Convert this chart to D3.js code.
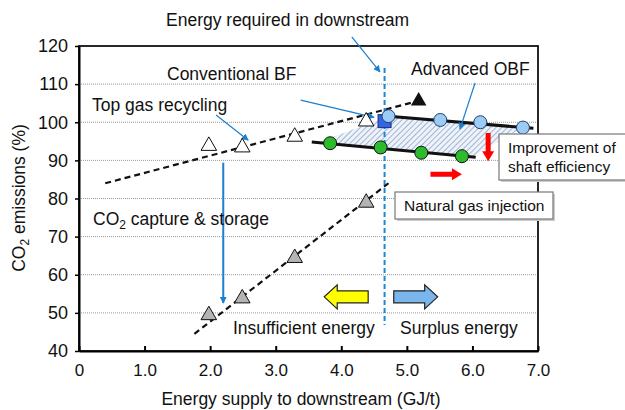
<!DOCTYPE html>
<meta charset="utf-8">
<style>
  body { margin: 0; background: #fff; }
  svg text { font-family: "Liberation Sans", Arial, sans-serif; fill: #111; }
  .grid line { stroke: #999; stroke-dasharray: 1,1; }
  .lbl { font-size: 17.5px; }
  .boxlbl { font-size: 15.5px; }
</style>
<body>
<svg width="625" height="410"></svg>
<script src="https://cdn.jsdelivr.net/npm/d3@7"></script>
<script>
// values
var xTicks = [0, 1, 2, 3, 4, 5, 6, 7];
var xTickLabels = ["0", "1.0", "2.0", "3.0", "4.0", "5.0", "6.0", "7.0"];
var yTicks = [40, 50, 60, 70, 80, 90, 100, 110, 120];
var gridValues = [50, 60, 70, 80, 90, 100, 110];

var conventionalPts = [[1.98, 93.8], [2.49, 93.4], [3.29, 96.2], [4.38, 100.2]];
var conventionalLine = [[0.4, 84], [5.15, 105.5]];
var conventionalEnd = [[5.18, 105.6]];
var topGasSquare = [[4.66, 100.3]];
var ccsPts = [[1.98, 49.4], [2.49, 53.8], [3.29, 64.4], [4.38, 78.9]];
var ccsLine = [[1.76, 44.5], [4.72, 84]];
var obfUpper = [[4.72, 101.6], [5.51, 100.6], [6.12, 100.0], [6.77, 98.6]];
var obfUpperLine = [[4.72, 101.6], [6.93, 98.4]];
var obfLower = [[3.83, 94.5], [4.6, 93.4], [5.22, 92.0], [5.84, 91.1]];
var obfLowerLine = [[3.55, 94.8], [6.05, 90.8]];
var hatchArea = [[3.7, 95.0], [4.72, 101.6], [6.77, 98.6], [6.0, 91.0], [3.83, 94.5]];
var energyRequired = 4.66;

var margin = {top: 46, right: 87, bottom: 59, left: 79},
    width = 625 - margin.left - margin.right,
    height = 410 - margin.top - margin.bottom;

var svg = d3.select("svg");
var defs = svg.append("defs");

var pat = defs.append("pattern")
    .attr("id", "hatch")
    .attr("patternUnits", "userSpaceOnUse")
    .attr("width", 4).attr("height", 4)
    .attr("patternTransform", "rotate(45)");
pat.append("rect").attr("width", 4).attr("height", 4).attr("fill", "#eef3fa");
pat.append("line").attr("x1", 0).attr("y1", 0).attr("x2", 0).attr("y2", 4)
    .attr("stroke", "#8ea6cc").attr("stroke-width", 1.6);

defs.append("marker")
    .attr("id", "bluehead")
    .attr("viewBox", "0 0 10 10")
    .attr("refX", 9).attr("refY", 5)
    .attr("markerWidth", 7).attr("markerHeight", 7)
    .attr("markerUnits", "userSpaceOnUse")
    .attr("orient", "auto")
  .append("path").attr("d", "M0,0L10,5L0,10z").attr("fill", "#1a7fcf");

var x = d3.scaleLinear().domain([0, 7]).range([0, width]);
var y = d3.scaleLinear().domain([40, 120]).range([height, 0]);

var g = svg.append("g").attr("transform", "translate(" + margin.left + "," + margin.top + ")");

// grid
g.append("g").attr("class", "grid")
  .selectAll("line").data(gridValues).enter().append("line")
    .attr("x1", 0).attr("x2", width)
    .attr("y1", function(d) { return y(d); })
    .attr("y2", function(d) { return y(d); });

// frame
g.append("rect").attr("width", width).attr("height", height)
    .attr("fill", "none").attr("stroke", "#111").attr("stroke-width", 1.8);

var xAxis = g.append("g").attr("transform", "translate(0," + height + ")")
    .call(d3.axisBottom(x).tickValues(xTicks).tickSizeInner(-5).tickSizeOuter(0)
      .tickFormat(function(d, i) { return xTickLabels[i]; }));
xAxis.select(".domain").attr("stroke-width", 2);
xAxis.selectAll(".tick line").attr("stroke-width", 2);
xAxis.selectAll("text").attr("font-size", 17).attr("dy", 0).attr("y", 25)
    .style("font-family", "Liberation Sans, Arial, sans-serif");

var yAxis = g.append("g")
    .call(d3.axisLeft(y).tickValues(yTicks).tickSizeInner(4).tickSizeOuter(0).tickPadding(7));
yAxis.select(".domain").attr("stroke-width", 2);
yAxis.selectAll(".tick line").attr("stroke-width", 1.5);
yAxis.selectAll("text").attr("font-size", 18)
    .style("font-family", "Liberation Sans, Arial, sans-serif");

var line = d3.line().x(function(d) { return x(d[0]); }).y(function(d) { return y(d[1]); });

// hatch region
g.append("path").attr("d", line(hatchArea) + "Z").attr("fill", "url(#hatch)");

// energy required
g.append("line")
    .attr("x1", x(energyRequired)).attr("x2", x(energyRequired))
    .attr("y1", y(114.2)).attr("y2", y(46.8))
    .attr("stroke", "#1a86d6").attr("stroke-width", 2).attr("stroke-dasharray", "5,3");

// dashed trend lines
[conventionalLine, ccsLine].forEach(function(l) {
  g.append("path").attr("d", line(l)).attr("fill", "none")
    .attr("stroke", "#111").attr("stroke-width", 2.2).attr("stroke-dasharray", "6,4");
});
[obfUpperLine, obfLowerLine].forEach(function(l) {
  g.append("path").attr("d", line(l)).attr("fill", "none")
    .attr("stroke", "#111").attr("stroke-width", 3);
});

// thin blue arrows
var blueArrows = [
  [[2.2, 89.4], [2.2, 52.6]],
  [[2.09, 101.9], [2.58, 95.3]],
  [[3.38, 105.8], [4.5, 101.3]],
  [[4.16, 122.4], [4.59, 113.2]],
  [[6.04, 110.3], [5.81, 98.2]]
];
blueArrows.forEach(function(a, i) {
  g.append("path").attr("d", line(a)).attr("fill", "none")
    .attr("stroke", "#1a7fcf").attr("stroke-width", i == 0 ? 2 : 1.2)
    .attr("marker-end", "url(#bluehead)");
});

var tri = d3.symbol().type(d3.symbolTriangle).size(105);

g.selectAll(".conv").data(conventionalPts).enter().append("path")
    .attr("d", tri).attr("transform", function(d) { return "translate(" + x(d[0]) + "," + y(d[1]) + ")"; })
    .attr("fill", "#fff").attr("stroke", "#111").attr("stroke-width", 1);
g.selectAll(".ccs").data(ccsPts).enter().append("path")
    .attr("d", tri).attr("transform", function(d) { return "translate(" + x(d[0]) + "," + y(d[1]) + ")"; })
    .attr("fill", "#b4b4b4").attr("stroke", "#111").attr("stroke-width", 1);
g.selectAll(".convEnd").data(conventionalEnd).enter().append("path")
    .attr("d", tri).attr("transform", function(d) { return "translate(" + x(d[0]) + "," + y(d[1]) + ")"; })
    .attr("fill", "#111");

g.selectAll(".sq").data(topGasSquare).enter().append("rect")
    .attr("x", function(d) { return x(d[0]) - 6.5; }).attr("y", function(d) { return y(d[1]) - 6.5; })
    .attr("width", 13).attr("height", 13)
    .attr("fill", "#3366e6").attr("stroke", "#1b2f7a").attr("stroke-width", 1);

g.selectAll(".low").data(obfLower).enter().append("circle")
    .attr("cx", function(d) { return x(d[0]); }).attr("cy", function(d) { return y(d[1]); })
    .attr("r", 6.5).attr("fill", "#2cbb2c").attr("stroke", "#111").attr("stroke-width", 1);
g.selectAll(".up").data(obfUpper).enter().append("circle")
    .attr("cx", function(d) { return x(d[0]); }).attr("cy", function(d) { return y(d[1]); })
    .attr("r", 6.5).attr("fill", "#9ccbf5").attr("stroke", "#1f3f6f").attr("stroke-width", 1);

// red arrows
function redArrow(x0, y0, x1, y1) {
  var px0 = x(x0), py0 = y(y0), px1 = x(x1), py1 = y(y1);
  var ang = Math.atan2(py1 - py0, px1 - px0), len = Math.hypot(px1 - px0, py1 - py0);
  var a = g.append("g").attr("transform", "translate(" + px0 + "," + py0 + ") rotate(" + (ang * 180 / Math.PI) + ")");
  a.append("path")
    .attr("d", "M0,-2.5L" + (len - 10) + ",-2.5L" + (len - 10) + ",-6L" + len + ",0L" + (len - 10) + ",6L" + (len - 10) + ",2.5L0,2.5Z")
    .attr("fill", "#ff0000");
}
redArrow(6.24, 97.2, 6.24, 89.8);
redArrow(5.36, 86.35, 5.84, 86.35);

// block arrows
function blockArrow(x0, x1, yc, fill) {
  var px0 = x(x0), px1 = x(x1), py = y(yc), dir = px1 > px0 ? 1 : -1;
  var head = 13 * dir, hs = 6, hh = 12;
  var pts = [[px0, py - hs], [px1 - head, py - hs], [px1 - head, py - hh], [px1, py],
             [px1 - head, py + hh], [px1 - head, py + hs], [px0, py + hs]];
  g.append("path").attr("d", "M" + pts.join("L") + "Z")
    .attr("fill", fill).attr("stroke", "#222").attr("stroke-width", 1.2);
}
blockArrow(4.41, 3.74, 54.2, "#ffff00");
blockArrow(4.80, 5.47, 54.2, "#7ab6ec");

// boxes
function box(x0, y0, w, h) {
  svg.append("rect").attr("x", x0 + 2).attr("y", y0 + 2).attr("width", w).attr("height", h).attr("fill", "#ccc");
  svg.append("rect").attr("x", x0).attr("y", y0).attr("width", w).attr("height", h)
    .attr("fill", "#fff").attr("stroke", "#777").attr("stroke-width", 1.2);
}
box(395, 192, 158, 27);
box(499, 134, 130, 46);

// labels
function label(tx, ty, str, cls) {
  return svg.append("text").attr("class", cls || "lbl").attr("x", tx).attr("y", ty).text(str);
}
label(166, 26, "Energy required in downstream");
label(167, 80, "Conventional BF");
label(92, 111, "Top gas recycling");
label(411, 75, "Advanced OBF");
var ccsT = svg.append("text").attr("class", "lbl").attr("x", 93).attr("y", 225);
ccsT.append("tspan").text("CO");
ccsT.append("tspan").text("2").attr("font-size", 12).attr("dy", 4);
ccsT.append("tspan").text(" capture & storage").attr("dy", -4);
label(233, 334, "Insufficient energy");
label(400, 334, "Surplus energy");
label(404, 211, "Natural gas injection", "boxlbl");
label(508, 153, "Improvement of", "boxlbl");
label(508, 172, "shaft efficiency", "boxlbl");

svg.append("text").attr("class", "lbl").attr("x", 301).attr("y", 405)
    .attr("text-anchor", "middle").text("Energy supply to downstream (GJ/t)");

var yt = svg.append("text").attr("class", "lbl").attr("text-anchor", "middle")
    .attr("transform", "translate(25,198) rotate(-90)");
yt.append("tspan").text("CO");
yt.append("tspan").text("2").attr("font-size", 12).attr("dy", 4);
yt.append("tspan").text(" emissions (%)").attr("dy", -4);
</script>
</body>
